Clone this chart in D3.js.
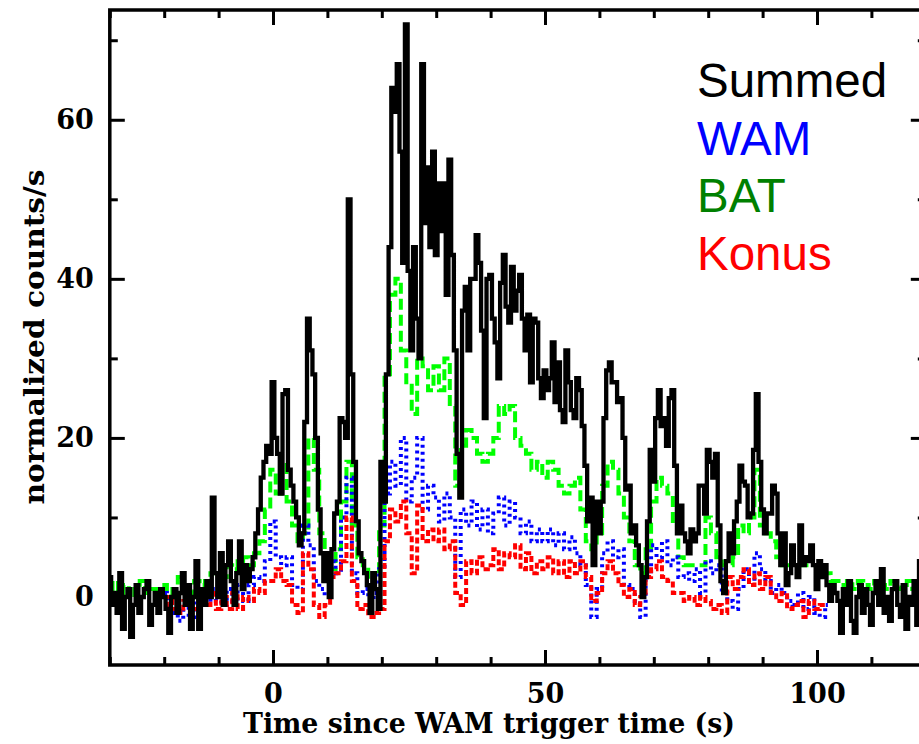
<!DOCTYPE html>
<html><head><meta charset="utf-8">
<script src="https://cdn.jsdelivr.net/npm/d3@7"></script>
<style>body{margin:0;background:#fff}svg{display:block}</style>
</head><body>
<svg id="c" width="919" height="744"></svg>
<script>
// ---- data (time in s since WAM trigger, normalized counts/s) ----
const summedStart = -30, summedStep = 0.5;
const summed = [
 2.5,-1,0.5,-2,3,-4,0,1,-5,-1,
 1.5,-2,0,1,2,-3.5,-1,0.5,-2,1,
 0,-1.5,-4.5,0,1,-2,0.5,3,-1,1.5,
 -4,0,4.5,-4,1,-1,2,0,12.5,3,
 0,5.5,-1,4,7,2,-1,3,7,1,
 4,2,3.5,5,8,11,15,17,19,18,
 27,20,18,13,25.5,26,16,14,12,10,
 6.5,8,22,35,31,28,20,11,5.5,2,
 5.5,0,6,10.5,12,22.5,22,20,50,28,
 17,9.5,5.5,4.5,3,1.5,-2,3,1,-1.5,
 17,12,28,44,64,61,67,56,42,72,
 41,31,44,35,30,67,47,54,44,56,
 43,52,46,52,38,55,43,31,18,12.5,
 36,39,31,40,40,45.5,42,33.5,22.5,40,
 40.5,35,32,27.5,39.5,43,36.5,34.5,41.5,36,
 38.5,40.5,35,31,35.5,27,35,34.5,27.5,25,
 28.5,26,27.5,32,24.5,29.5,23.5,22,31,27,
 23.5,22.5,27.5,26,21.5,16.5,9.5,12.5,4,12,
 8,12,22.5,28.5,29.5,27,27,24.5,25,20,
 13.5,14,8,9,6.5,4,0,2.5,9.5,18.5,
 14.5,22.5,26,21.5,22.5,19,25,26,16.5,8,
 11.5,8,7,5.5,8.5,7,8,14,14,10.5,
 18.5,17,15,18,9,2,0.5,4.5,8,5.5,
 9.5,12,16.5,14.5,14,10,10.5,18.5,25.5,17,
 11,8,10.5,10.5,14,13,8,4,8,1.5,
 3,6.5,4,2.5,9,4,5,4.5,6.5,4,
 1,4.5,2.5,4,1.5,-0.5,1.5,0.5,-0.5,-4.5,
 1,-1,2,-3,-4.5,0,1.5,-2,1,-1,
 -3.5,0.5,2,-1,3.5,-2,0,-3,1,2,
 -1,-2.5,1.5,-4,0,-1,2,-3.5,4.5
];
const batStart = -30, batStep = 1;
const bat = [
 1,2,0.5,1.5,0,1,2,0.5,1,0,
 1.5,0.5,1,2.5,1,0.5,2,1.5,2,3,
 3,2.5,4,3.5,4.5,5,4,5.5,7,11,
 16,13,17,12,9,7,8,20,16,8,
 5,3.5,6,12,17,9,5,4,2,3,
 9,28,38,40,31,27,23,30,29,26,
 29,26,30,24,14,19,21,20,18,17,
 18,20,24,23,24,20,19,18,16,17,
 15,17,16,14,13,14,15,11,7,6,
 8,14,17,16,13,10,7,4,3,6,
 12,15,14,13,9,5,4,4,4,4,
 10,8,5,4,4,5,9,8,10,16,
 9,8,7,5,4,4,4,4,4,4,
 4,4,3,2,2,1.5,2,1,2,1.5,
 1,2,1.5,1,2,1,1.5,2,1,1.5
];
const wamStart = -20, wamStep = 1;
const wam = [
 0.5,-1.5,-2,-3,-1,-2.5,-0.5,0,-1,1,
 -0.5,-1,1,-0.5,1.5,-0.5,1.5,2.5,2,4.5,
 9.5,5,4,5,1.5,1,9,6.5,2,1,
 0,4.5,3,10,15,3,0.5,1,0,0.5,
 3.5,13,17,14,20,12,15,20,11,14,
 12.5,9.5,13,10,2.5,11,9,12,8.5,11,
 8,10.5,12.5,9,12,10,8,9.5,7,8.5,
 7,8.5,6.5,8,6,7.5,5.5,4,1.5,-2.5,
 1,5.5,7,5,6,1.5,1,-0.5,-2.5,2.5,
 6.5,5,7,4,5,2.5,3,2,3.5,0.5,
 4.5,3,4,0.5,-0.5,-1.5,1,3.5,2,5.5,
 3.5,2,0.5,1.5,0.5,-0.5,-1,0.5,-1.5,0,
 -2,-2.5,-1
];
const konusStart = -20, konusStep = 1;
const konus = [
 -1,0,-1.5,-2,-0.5,-1,-1.5,-0.5,-1,0.5,
 -1.5,0,-1.5,0.5,-1.5,0,-0.5,1,0.5,2,
 2,3.5,2,1.5,-1,-2,5.5,3.5,-1,-2.5,
 -1,2.5,3,4.5,10,2,-1.5,-1,-2.5,-2,
 -1.5,7,11,9.5,12,8,3,11.5,7,8.5,
 7,8.5,6,7,0.5,-1,4.5,3,5,3.5,
 4,6,3.5,5.5,5,6.5,3.5,5.5,3,4.5,
 3.5,5,3,4.5,2.5,4.5,3,4.5,2.5,-0.5,
 0.5,3,4.5,3,1.5,0,1,-1,0,2.5,
 3.5,4.5,2.5,2,0.5,0.5,-0.5,0,-1,0,
 -0.5,-1.5,-1,-2,2.5,1,2.5,3.5,1.5,3,
 1,2.5,0.5,-0.5,0.5,-1.5,-1,-0.5,-2.5,-0.5,
 -1.5,-1,-1
];
const legendLabels = ["Summed","WAM","BAT","Konus"];
const xMajorTicks = [0,50,100];
const xMinorTicks = [-30,-20,-10,10,20,30,40,60,70,80,90,110,120];
const yMajorTicks = [0,20,40,60];
const yMinorTicks = [10,30,50,70];

// ---- layout ----
const L = 109.8, R = 925.8, T = 10, B = 665;
const svg = d3.select("#c");
const x = d3.scaleLinear().domain([-30,120]).range([L,R]);
const y = d3.scaleLinear().domain([-8.55,73.8]).range([B,T]);

svg.append("defs").append("clipPath").attr("id","clip")
  .append("rect").attr("x",L).attr("y",T).attr("width",R-L).attr("height",B-T);

function series(start, step, vals){
  return vals.map((v,i)=>({t:start+i*step, v}));
}
const line = d3.line().x(d=>x(d.t)).y(d=>y(d.v)).curve(d3.curveStep);
const g = svg.append("g").attr("clip-path","url(#clip)");

g.append("path").datum(series(batStart,batStep,bat)).attr("d",line)
  .attr("fill","none").attr("stroke","#00ff00").attr("stroke-width",4).attr("stroke-dasharray","11,5");
g.append("path").datum(series(wamStart,wamStep,wam)).attr("d",line)
  .attr("fill","none").attr("stroke","#0000ff").attr("stroke-width",4).attr("stroke-dasharray","3,4");
g.append("path").datum(series(konusStart,konusStep,konus)).attr("d",line)
  .attr("fill","none").attr("stroke","#ff0000").attr("stroke-width",4).attr("stroke-dasharray","6,3");
g.append("path").datum(series(summedStart,summedStep,summed)).attr("d",line)
  .attr("fill","none").attr("stroke","#000").attr("stroke-width",4.3).attr("stroke-linejoin","miter");

// ---- axes ----
const tickFont = "'DejaVu Serif', serif";
function styleAxis(sel){
  sel.select(".domain").remove();
  sel.selectAll(".tick line").attr("stroke","#000").attr("stroke-width",3);
  sel.selectAll(".tick text").attr("font-family",tickFont).attr("font-weight","bold")
     .attr("font-size",27).attr("fill","#000");
}
svg.append("g").attr("transform",`translate(0,${B})`)
  .call(d3.axisBottom(x).tickValues(xMajorTicks).tickSize(-15).tickPadding(19).tickFormat(d3.format("d"))).call(styleAxis);
svg.append("g").attr("transform",`translate(0,${B})`)
  .call(d3.axisBottom(x).tickValues(xMinorTicks).tickSize(-8).tickFormat("")).call(styleAxis);
svg.append("g").attr("transform",`translate(0,${T})`)
  .call(d3.axisTop(x).tickValues(xMajorTicks).tickSize(-15).tickFormat("")).call(styleAxis);
svg.append("g").attr("transform",`translate(0,${T})`)
  .call(d3.axisTop(x).tickValues(xMinorTicks).tickSize(-8).tickFormat("")).call(styleAxis);
svg.append("g").attr("transform",`translate(${L},0)`)
  .call(d3.axisLeft(y).tickValues(yMajorTicks).tickSize(-15).tickPadding(16).tickFormat(d3.format("d"))).call(styleAxis);
svg.append("g").attr("transform",`translate(${L},0)`)
  .call(d3.axisLeft(y).tickValues(yMinorTicks).tickSize(-8).tickFormat("")).call(styleAxis);
svg.append("g").attr("transform",`translate(${R},0)`)
  .call(d3.axisRight(y).tickValues(yMajorTicks).tickSize(-15).tickFormat("")).call(styleAxis);
svg.append("g").attr("transform",`translate(${R},0)`)
  .call(d3.axisRight(y).tickValues(yMinorTicks).tickSize(-8).tickFormat("")).call(styleAxis);

svg.append("rect").attr("x",L).attr("y",T).attr("width",R-L).attr("height",B-T)
  .attr("fill","none").attr("stroke","#000").attr("stroke-width",3.5);

// ---- titles ----
svg.append("text").attr("x",489).attr("y",733).attr("text-anchor","middle")
  .attr("font-family",tickFont).attr("font-size",27).attr("font-weight","bold")
  .attr("textLength",492).attr("lengthAdjust","spacingAndGlyphs")
  .text("Time since WAM trigger time (s)");
svg.append("text").attr("transform","translate(44,337) rotate(-90)").attr("text-anchor","middle")
  .attr("font-family",tickFont).attr("font-size",27).attr("font-weight","bold")
  .attr("textLength",335).attr("lengthAdjust","spacingAndGlyphs")
  .text("normalized counts/s");

// ---- legend ----
const legendColors = ["#000000","#0000ff","#008000","#ff0000"];
const legendY = [97,155,212,270];
svg.selectAll(".leg").data(legendLabels).enter().append("text")
  .attr("x",697).attr("y",(d,i)=>legendY[i])
  .attr("font-family","'Liberation Sans', Arial, sans-serif").attr("font-size",47.5)
  .attr("fill",(d,i)=>legendColors[i]).text(d=>d);
</script>
</body></html>
